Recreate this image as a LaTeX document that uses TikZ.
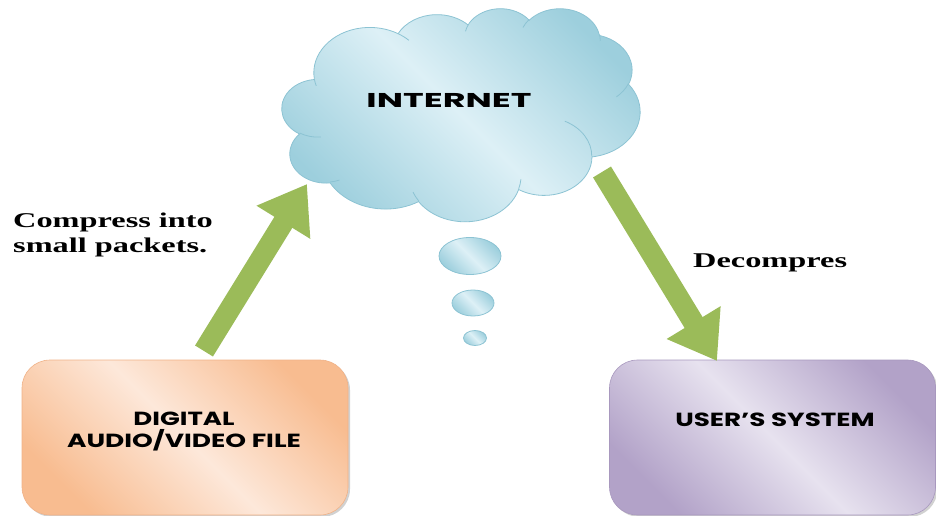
\documentclass[tikz,border=0pt]{standalone}
\usepackage{fontspec}
\setmainfont{Liberation Serif}
\newfontfamily\gothic{Poppins}
\usetikzlibrary{shapes.geometric,shadows,arrows.meta}

\definecolor{cloudlight}{HTML}{DDF0F6}
\definecolor{clouddark}{HTML}{9DCFDD}
\definecolor{cloudedge}{HTML}{8CC3D3}
\definecolor{orangelight}{HTML}{FDE8DA}
\definecolor{orangedark}{HTML}{F8BC90}
\definecolor{orangeedge}{HTML}{F0B288}
\definecolor{purplelight}{HTML}{E7E2EF}
\definecolor{purpledark}{HTML}{B2A2C8}
\definecolor{purpleedge}{HTML}{A898BE}
\definecolor{arrowgreen}{HTML}{9BBB59}

% horizontal stretch for lettering
\newcommand\stretchx[2]{\scalebox{#1}[1]{#2}}
% elliptic arc given by radii, start angle and sweep measured as ray angles
\newcommand\cloudlobe[4]{arc[start angle={atan2(#1*sin(#3),#2*cos(#3))},
  delta angle={mod(atan2(#1*sin(#3+#4),#2*cos(#3+#4))-atan2(#1*sin(#3),#2*cos(#3))+720,360)},
  x radius=#1, y radius=#2]}

\begin{document}
\begin{tikzpicture}[x=1pt,y=-1pt,
  twotone/.style n args={2}{top color=#2, bottom color=#2, middle color=#1, shading angle=-45},
  cloudfill/.style={twotone={cloudlight}{clouddark}, draw=cloudedge, line width=0.8pt},
  crease/.style={draw=cloudedge, line width=0.8pt},
  panel/.style={rectangle, rounded corners=28pt, minimum width=326pt, minimum height=155pt,
    inner sep=0pt, line width=0.6pt,
    drop shadow={shadow xshift=2pt, shadow yshift=-2pt, fill=black!45, opacity=0.4}},
  bubble/.style={ellipse, inner sep=0pt, cloudfill},
  blockarrow/.style={draw=arrowgreen, line width=21pt,
    -{Triangle[length=45pt, width=60pt, fill=arrowgreen]}},
  headtext/.style={font=\gothic\bfseries\fontsize{19}{22}\selectfont, align=center, inner sep=0pt},
  notetext/.style={font=\bfseries\fontsize{21}{25}\selectfont, align=left, inner sep=0pt},
]
\useasboundingbox (0,0) rectangle (936,516);

% the internet cloud
\begin{scope}[shift={(282,8)}, x=0.8287pt, y=-0.4931pt]
  \path[cloudfill] (39.00,143.70)
    \cloudlobe{67.53}{91.90}{-190.4875}{123.7805}
    \cloudlobe{53.33}{72.67}{-144.1024}{89.9452}
    \cloudlobe{43.65}{59.45}{-145.8079}{99.7230}
    \cloudlobe{48.57}{65.95}{-130.9861}{117.2417}
    \cloudlobe{53.33}{72.73}{-78.7089}{109.0269}
    \cloudlobe{67.75}{92.20}{-46.2673}{130.2690}
    \cloudlobe{57.85}{78.67}{0.6250}{114.0333}
    \cloudlobe{67.52}{92.15}{22.4516}{115.1726}
    \cloudlobe{77.20}{105.43}{66.2426}{75.7110}
    \cloudlobe{43.60}{59.18}{-274.9421}{146.7356}
    \cloudlobe{43.45}{59.45}{-246.8285}{152.5189}
    -- cycle;
  % creases where the puffs overlap
  \path[crease]
    (46.93,261.77) \cloudlobe{43.45}{59.45}{86.742}{26.4295}
    (69.28,348.99) \cloudlobe{43.60}{59.18}{73.6105}{11.4475}
    (164.78,390.90) \cloudlobe{67.52}{92.15}{137.6242}{14.0811}
    (288.27,347.51) \cloudlobe{67.52}{92.15}{6.4533}{15.9984}
    (341.29,229.54) \cloudlobe{57.85}{78.67}{-70.2924}{70.9174}
    (417.98,153.54) \cloudlobe{53.33}{72.73}{30.3180}{27.7515}
    (383.24,54.26) \cloudlobe{48.57}{65.95}{-13.7443}{14.8604}
    (290.78,39.52) \cloudlobe{48.57}{65.95}{-149.1815}{18.1908}
    (221.41,47.20) \cloudlobe{43.65}{59.45}{-163.4943}{17.6864}
    (140.05,52.01) \cloudlobe{67.53}{91.90}{-66.707}{12.319}
    (41.27,157.89) \cloudlobe{67.53}{91.90}{-202.35}{11.86};
\end{scope}
\node[headtext, font=\gothic\bfseries\fontsize{20}{22}\selectfont] (nettxt) at (449,100) {\stretchx{1.75}{INTERNET}};

% trailing bubbles
\node[bubble, minimum width=62pt, minimum height=37pt] (b1) at (470,256) {};
\node[bubble, minimum width=42pt, minimum height=26pt] (b2) at (473,303) {};
\node[bubble, minimum width=23pt, minimum height=15pt] (b3) at (475,338) {};

% source and destination panels
\node[panel, twotone={orangelight}{orangedark}, draw=orangeedge] (src) at (185,437.5) {};
\node[headtext] (srctxt) at (184,432) {\stretchx{1.37}{DIGITAL}\\\stretchx{1.39}{AUDIO/VIDEO FILE}};
\node[panel, twotone={purplelight}{purpledark}, draw=purpleedge] (dst) at (772.5,437.5) {};
\node[headtext] (dsttxt) at (775,419.5) {\stretchx{1.38}{USER’S SYSTEM}};

% flow arrows
\coordinate (up0) at (204,351);
\coordinate (up1) at (307,184);
\coordinate (dn0) at (602,172);
\coordinate (dn1) at (717,361);
\draw[blockarrow] (up0) -- (up1);
\draw[blockarrow] (dn0) -- (dn1);

% arrow notes
\node[notetext, anchor=north west] (compress) at (13,213) {\stretchx{1.54}{Compress into}\\\stretchx{1.54}{small packets.}};
\node[notetext, anchor=base west] (decomp) at (693,267) {\stretchx{1.54}{Decompres}};
\end{tikzpicture}
\end{document}
